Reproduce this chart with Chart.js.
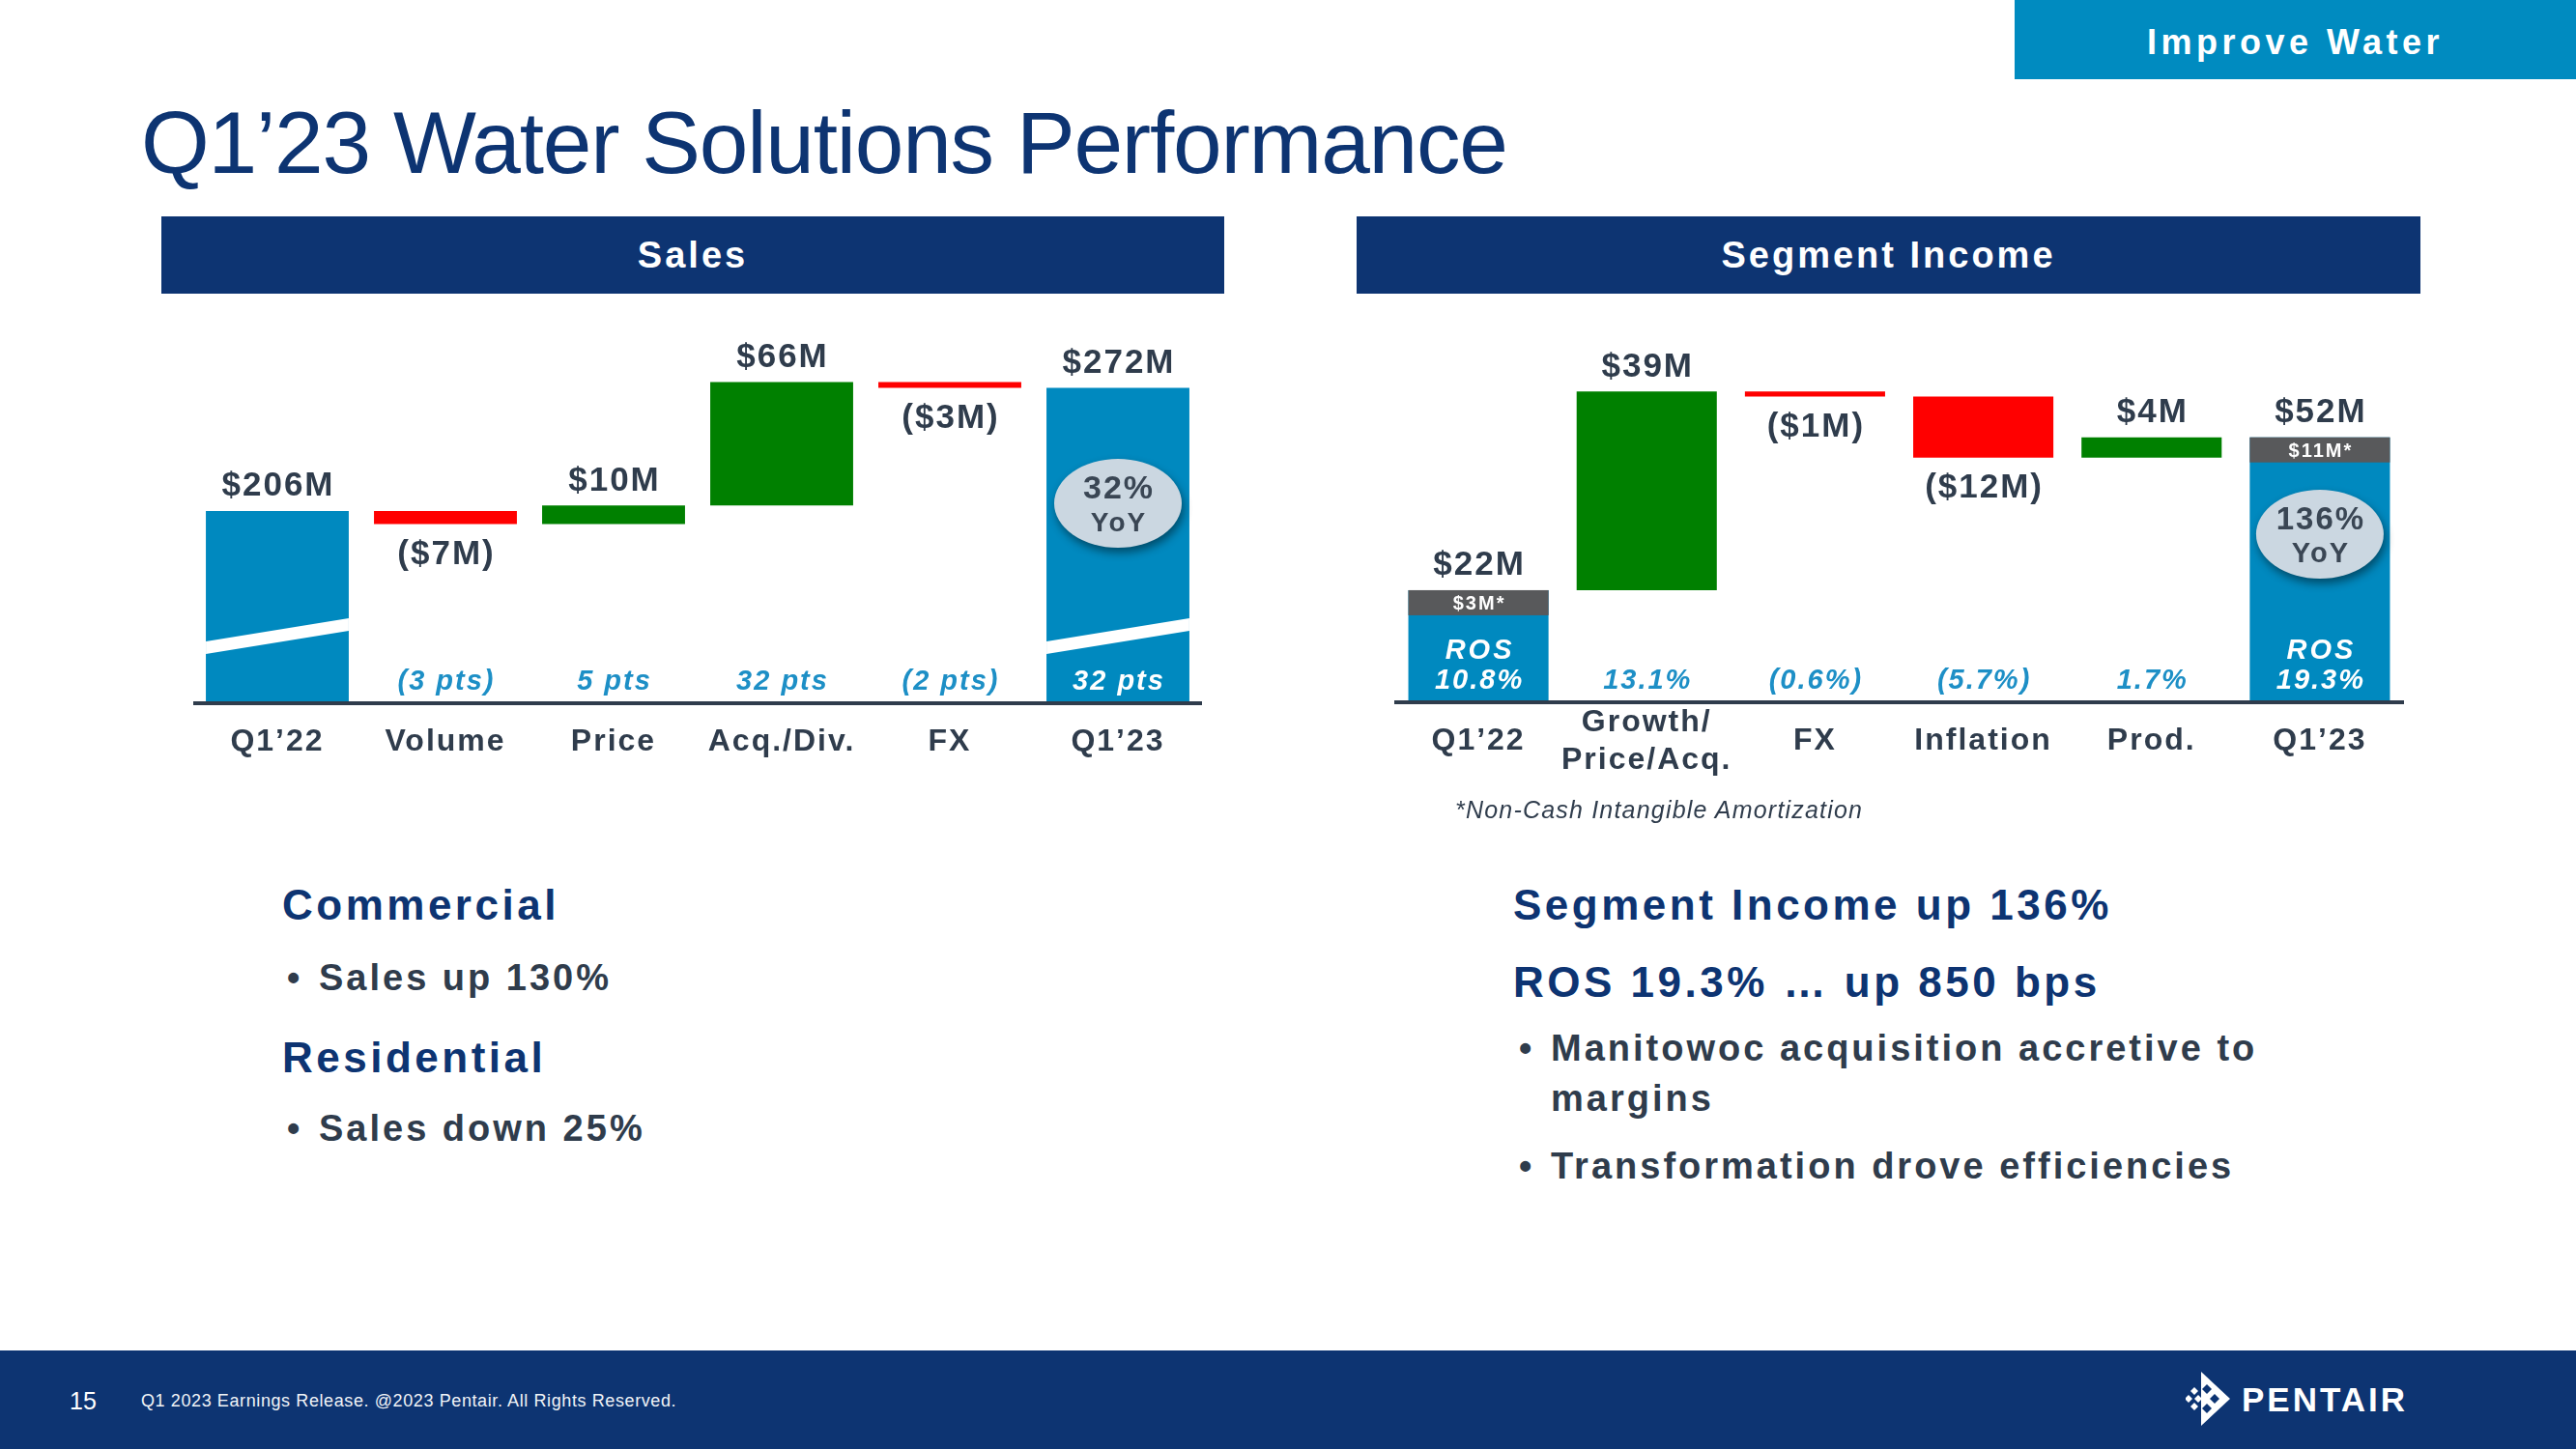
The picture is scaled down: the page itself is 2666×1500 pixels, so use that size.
<!DOCTYPE html>
<html><head><meta charset="utf-8">
<script src="https://cdn.jsdelivr.net/npm/chart.js@4.4.0/dist/chart.umd.min.js"></script>
<style>
html,body{margin:0;padding:0;}
body{width:2666px;height:1500px;position:relative;overflow:hidden;background:#fff;font-family:'Liberation Sans',Arial,sans-serif;}
.abs{position:absolute;white-space:nowrap;}
.hdr{position:absolute;background:#0d3472;color:#fff;font-weight:bold;font-size:38px;letter-spacing:3px;text-align:center;line-height:80px;height:80px;}
.h2{position:absolute;white-space:nowrap;color:#0d3472;font-weight:bold;font-size:44px;letter-spacing:3.5px;height:60px;line-height:60px;}
.b{position:absolute;white-space:nowrap;color:#2f3c4c;font-weight:bold;font-size:38px;letter-spacing:3px;height:60px;line-height:60px;}
canvas{position:absolute;}
</style></head><body>

<div class="abs" style="left:2085px;top:0;width:581px;height:82px;background:#008bc0;color:#fff;font-weight:bold;font-size:36px;letter-spacing:4.5px;text-align:center;line-height:88px;">Improve Water</div>
<div class="abs" style="left:146px;top:102px;font-size:91px;line-height:91px;letter-spacing:-1.2px;color:#0d3472;">Q1’23 Water Solutions Performance</div>

<div class="hdr" style="left:167px;top:224px;width:1100px;">Sales</div>
<div class="hdr" style="left:1404px;top:224px;width:1101px;">Segment Income</div>

<canvas id="sales" width="1044" height="560" style="left:200px;top:290px;"></canvas>
<canvas id="seg" width="1045" height="560" style="left:1443px;top:290px;"></canvas>

<div class="abs" style="left:1506px;top:823px;height:30px;line-height:30px;font-size:25px;font-style:italic;letter-spacing:1.2px;color:#2f3c4c;">*Non-Cash Intangible Amortization</div>

<div class="h2" style="left:292px;top:907px;">Commercial</div>
<div class="b" style="left:297px;top:982px;">•</div>
<div class="b" style="left:330px;top:982px;">Sales up 130%</div>
<div class="h2" style="left:292px;top:1065px;">Residential</div>
<div class="b" style="left:297px;top:1138px;">•</div>
<div class="b" style="left:330px;top:1138px;">Sales down 25%</div>

<div class="h2" style="left:1566px;top:907px;">Segment Income up 136%</div>
<div class="h2" style="left:1566px;top:987px;">ROS 19.3% … up 850 bps</div>
<div class="b" style="left:1572px;top:1055px;">•</div>
<div class="b" style="left:1605px;top:1055px;">Manitowoc acquisition accretive to</div>
<div class="b" style="left:1605px;top:1107px;">margins</div>
<div class="b" style="left:1572px;top:1177px;">•</div>
<div class="b" style="left:1605px;top:1177px;">Transformation drove efficiencies</div>

<div class="abs" style="left:0;top:1398px;width:2666px;height:102px;background:#0d3472;"></div>
<div class="abs" style="left:72px;top:1434px;height:32px;line-height:32px;font-size:25px;color:#fff;">15</div>
<div class="abs" style="left:146px;top:1438px;height:24px;line-height:24px;font-size:18px;letter-spacing:0.6px;color:#f0f3f7;">Q1 2023 Earnings Release. @2023 Pentair. All Rights Reserved.</div>
<svg class="abs" style="left:2262px;top:1420px;" width="50" height="56" viewBox="0 0 50 56">
  <polygon points="16,0 46,28 16,56" fill="#fff"/>
  <polygon points="22,13 27,18 22,23 17,18" fill="#0d3472"/>
  <polygon points="22,33 27,38 22,43 17,38" fill="#0d3472"/>
  <polygon points="30,23 35,28 30,33 25,28" fill="#0d3472"/>
  <polygon points="9,16 13,20 9,24 5,20" fill="#fff"/>
  <polygon points="9,32 13,36 9,40 5,36" fill="#fff"/>
  <polygon points="3,24 7,28 3,32 -1,28" fill="#fff"/>
  <polygon points="13,24 17,28 13,32 9,28" fill="#fff"/>
</svg>
<div class="abs" style="left:2320px;top:1428px;height:42px;line-height:42px;font-size:35px;font-weight:bold;letter-spacing:3px;color:#fff;">PENTAIR</div>

<script>
// ---------- DATA ----------
const salesCategories = ['Q1’22', 'Volume', 'Price', 'Acq./Div.', 'FX', 'Q1’23'];
const salesKinds = ['total', 'delta', 'delta', 'delta', 'delta', 'total'];
const salesChanges = [206, -7, 10, 66, -3, 272];
const salesValueLabels = ['$206M', '($7M)', '$10M', '$66M', '($3M)', '$272M'];
const salesPtsLabels = ['', '(3 pts)', '5 pts', '32 pts', '(2 pts)', '32 pts'];
const salesYoY = ['32%', 'YoY'];

const segCategories = ['Q1’22', ['Growth/', 'Price/Acq.'], 'FX', 'Inflation', 'Prod.', 'Q1’23'];
const segKinds = ['total', 'delta', 'delta', 'delta', 'delta', 'total'];
const segChanges = [22, 39, -1, -12, 4, 52];
const segValueLabels = ['$22M', '$39M', '($1M)', '($12M)', '$4M', '$52M'];
const segAmortLabels = ['$3M*', '', '', '', '', '$11M*'];
const segPctLabels = ['10.8%', '13.1%', '(0.6%)', '(5.7%)', '1.7%', '19.3%'];
const segYoY = ['136%', 'YoY'];

// ---------- STYLE ----------
const SLATE = '#2f3c4c', BLUE = '#0089bf', GREEN = '#008000', RED = '#ff0000', GRAY = '#58595b', PTS = '#1d8fc6';
const FAM = "'Liberation Sans', Arial, sans-serif";

function waterfall(changes, kinds) {
  let run = 0;
  return changes.map((v, i) => {
    if (kinds[i] === 'total') { run = v; return v; }
    const s = run; run += v; return [s, run];
  });
}
function barColors(changes, kinds) {
  return changes.map((v, i) => kinds[i] === 'total' ? BLUE : (v >= 0 ? GREEN : RED));
}
function txt(ctx, s, x, cy, size, style, color, ls) {
  ctx.save();
  ctx.font = style + ' ' + size + 'px ' + FAM;
  ctx.fillStyle = color;
  ctx.letterSpacing = ls + 'px';
  ctx.textAlign = 'center';
  ctx.textBaseline = 'alphabetic';
  ctx.fillText(s, x + ls / 2, cy + size * 0.358);
  ctx.restore();
}
function badge(ctx, x, cy, lines, s1, s2) {
  ctx.save();
  ctx.shadowColor = 'rgba(0,0,0,0.45)';
  ctx.shadowBlur = 10; ctx.shadowOffsetX = 2; ctx.shadowOffsetY = 5;
  ctx.fillStyle = '#cbd7e1';
  ctx.beginPath(); ctx.ellipse(x, cy, 66, 46, 0, 0, Math.PI * 2); ctx.fill();
  ctx.restore();
  txt(ctx, lines[0], x, cy - 17, s1, 'bold', '#3a4654', 2);
  txt(ctx, lines[1], x, cy + 19, s2, 'bold', '#3a4654', 2);
}

const spacing = { id: 'spacing', beforeDraw(chart) { chart.ctx.letterSpacing = '2px'; } };

function labelPlugin(cfg) {
  return {
    id: 'wfLabels',
    afterDatasetsDraw(chart) {
      const ctx = chart.ctx;
      const B = chart.chartArea.bottom;
      const meta = chart.getDatasetMeta(0);
      meta.data.forEach((bar, i) => {
        const p = bar.getProps(['x', 'y', 'base', 'width'], true);
        const top = Math.min(p.y, p.base), bot = Math.max(p.y, p.base);
        const L = p.x - p.width / 2, R = p.x + p.width / 2;
        const total = cfg.kinds[i] === 'total';
        if (total && cfg.slash) {
          ctx.save(); ctx.fillStyle = '#fff';
          ctx.beginPath(); ctx.moveTo(L, B - 64); ctx.lineTo(R, B - 88); ctx.lineTo(R, B - 75); ctx.lineTo(L, B - 51);
          ctx.closePath(); ctx.fill(); ctx.restore();
        }
        if (total && cfg.amort && cfg.amort[i]) {
          ctx.save(); ctx.fillStyle = GRAY; ctx.fillRect(L, top, p.width, 26); ctx.restore();
          txt(ctx, cfg.amort[i], p.x, top + 13, 20, 'bold', '#fff', 2);
        }
        // value label
        if (total || cfg.changes[i] >= 0) txt(ctx, cfg.values[i], p.x, top - 28, 35, 'bold', SLATE, 2);
        else txt(ctx, cfg.values[i], p.x, bot + 29, 35, 'bold', SLATE, 2);
        // bottom labels
        if (cfg.pts[i]) txt(ctx, cfg.pts[i], p.x, B - 24, 29, 'italic bold', total ? '#fff' : PTS, 2);
        if (cfg.ros && total) txt(ctx, 'ROS', p.x, B - 55, 29, 'italic bold', '#fff', 3);
        if (total && i === cfg.kinds.length - 1) badge(ctx, p.x, B - cfg.badgeOffset, cfg.yoy, cfg.s1, cfg.s2);
      });
    }
  };
}

function makeChart(id, cats, changes, kinds, yMin, yMax, padTop, axisH, crossAlign, pluginCfg, barPct) {
  return new Chart(document.getElementById(id), {
    type: 'bar',
    data: {
      labels: cats,
      datasets: [{
        data: waterfall(changes, kinds),
        backgroundColor: barColors(changes, kinds),
        borderWidth: 0,
        barPercentage: barPct,
        categoryPercentage: 1
      }]
    },
    options: {
      responsive: false, animation: false, devicePixelRatio: 1,
      layout: { padding: { top: padTop, left: 0, right: 0, bottom: 0 } },
      plugins: { legend: { display: false }, tooltip: { enabled: false } },
      scales: {
        x: {
          grid: { display: false, drawTicks: false },
          border: { display: true, color: SLATE, width: 4, z: 1 },
          ticks: {
            color: SLATE, padding: 21, maxRotation: 0, autoSkip: false, crossAlign: crossAlign,
            font: { family: FAM, size: 32, weight: 'bold', lineHeight: 39 / 32 }
          },
          afterFit(s) { s.height = axisH; }
        },
        y: { display: false, min: yMin, max: yMax, beginAtZero: false }
      }
    },
    plugins: [spacing, labelPlugin(pluginCfg)]
  });
}

makeChart('sales', salesCategories, salesChanges, salesKinds, 103, 325, 9, 122, 'near', {
  kinds: salesKinds, changes: salesChanges, values: salesValueLabels, pts: salesPtsLabels,
  slash: true, yoy: salesYoY, badgeOffset: 207, s1: 34, s2: 28
}, 0.85);

makeChart('seg', segCategories, segChanges, segKinds, 0, 80, 15, 123, 'center', {
  kinds: segKinds, changes: segChanges, values: segValueLabels, pts: segPctLabels,
  amort: segAmortLabels, ros: true, yoy: segYoY, badgeOffset: 174, s1: 33, s2: 29
}, 0.833);
</script>
</body></html>
